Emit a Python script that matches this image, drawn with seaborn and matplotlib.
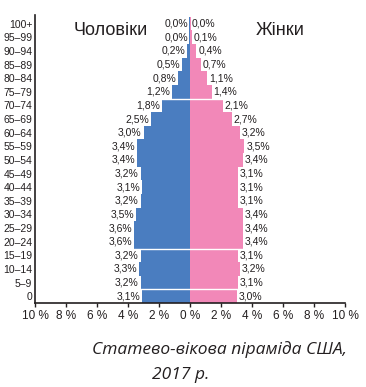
import pandas as pd
import matplotlib
matplotlib.use("Agg")
from matplotlib import pyplot as plt
import seaborn as sns

ages = ['100+', '95–99', '90–94', '85–89', '80–84', '75–79', '70–74', '65–69',
        '60–64', '55–59', '50–54', '45–49', '40–44', '35–39', '30–34', '25–29',
        '20–24', '15–19', '10–14', '5–9', '0']
male = [0.0, 0.0, 0.2, 0.5, 0.8, 1.2, 1.8, 2.5, 3.0, 3.4, 3.4, 3.2, 3.1, 3.2,
        3.5, 3.6, 3.6, 3.2, 3.3, 3.2, 3.1]
female = [0.0, 0.1, 0.4, 0.7, 1.1, 1.4, 2.1, 2.7, 3.2, 3.5, 3.4, 3.1, 3.1, 3.1,
          3.4, 3.4, 3.4, 3.1, 3.2, 3.1, 3.0]
xticks = [-10, -8, -6, -4, -2, 0, 2, 4, 6, 8, 10]

sns.set_style('white')
plt.rcParams['font.family'] = ['Liberation Sans', 'DejaVu Sans']

blue = '#4a7dc0'
pink = '#f288b8'
ink = '#231f20'

# tiny sliver so the 0,0 rows still show a line, like the original
df_m = pd.DataFrame({'age': ages, 'value': [-max(v, 0.05) for v in male]})
df_f = pd.DataFrame({'age': ages, 'value': [max(v, 0.05) for v in female]})

fig = plt.figure(figsize=(3.66, 3.87), dpi=100)
ax = fig.add_axes([0.096, 0.217, 0.847, 0.743])

sns.barplot(data=df_m, x='value', y='age', order=ages, orient='h',
            color=blue, width=1.0, saturation=1, linewidth=0, ax=ax)
sns.barplot(data=df_f, x='value', y='age', order=ages, orient='h',
            color=pink, width=1.0, saturation=1, linewidth=0, ax=ax)

for i, (m, f) in enumerate(zip(male, female)):
    ax.text(-m - 0.12, i, f'{m:.1f}%'.replace('.', ','), ha='right', va='center',
            fontsize=7.5, color=ink,
            bbox=dict(facecolor='white', edgecolor='none', pad=0.2))
    ax.text(f + 0.12, i, f'{f:.1f}%'.replace('.', ','), ha='left', va='center',
            fontsize=7.5, color=ink,
            bbox=dict(facecolor='white', edgecolor='none', pad=0.2))

# white breaks across the bars
for yb in [5.5, 16.5, 19.5]:
    ax.axhline(yb, color='white', lw=1.0, zorder=2)

ax.set_xlim(-10, 10)
ax.set_ylim(20.5, -0.6)
ax.set_xticks(xticks)
ax.set_xticklabels([f'{abs(t)} %' for t in xticks], fontsize=8.5, color=ink)
ax.tick_params(axis='y', labelsize=7.5, labelcolor=ink, length=0, pad=2)
ax.tick_params(axis='x', length=3, width=1, direction='out', pad=2,
               bottom=True, color=ink)
ax.set_xlabel('')
ax.set_ylabel('')
for s in ['top', 'right']:
    ax.spines[s].set_visible(False)
for s in ['left', 'bottom']:
    ax.spines[s].set_color(ink)
    ax.spines[s].set_linewidth(1.2)

ax.text(-7.5, 0.5, 'Чоловіки', fontsize=13, color=ink, ha='left', va='center')
ax.text(4.25, 0.5, 'Жінки', fontsize=13, color=ink, ha='left', va='center')

fig.text(0.25, 0.085, 'Статево-вікова піраміда США,', fontsize=12.5,
         style='italic', color=ink, family=['Open Sans', 'DejaVu Sans'])
fig.text(0.415, 0.02, '2017 р.', fontsize=12.5, style='italic',
         color=ink, family=['Open Sans', 'DejaVu Sans'])

fig.savefig('out.png', dpi=100)
